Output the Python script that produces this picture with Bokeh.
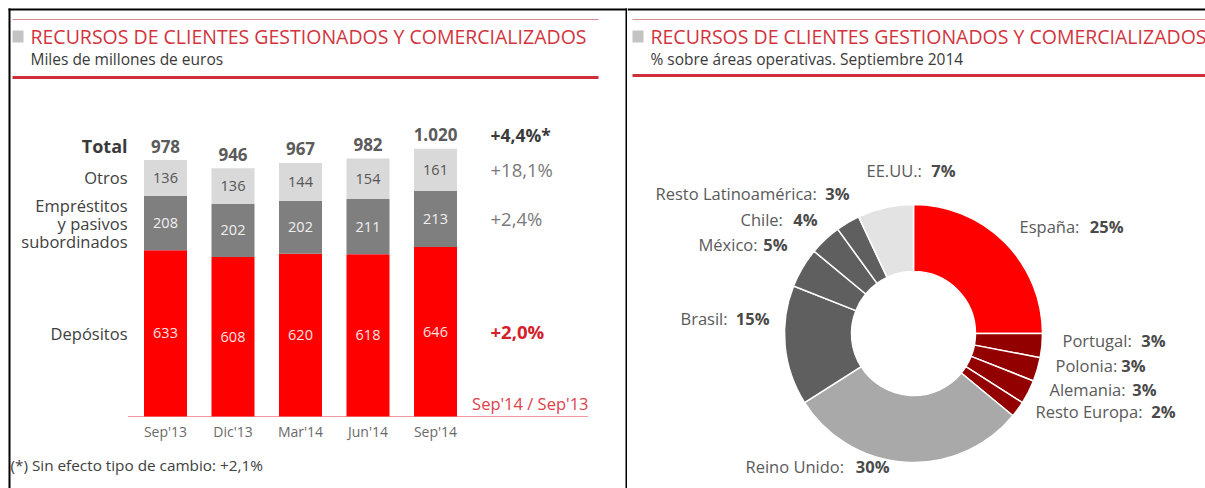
import math
from bokeh.plotting import figure
from bokeh.models import Range1d
from bokeh.layouts import row
from bokeh.embed import file_html
from bokeh.resources import INLINE
from bokeh.core.properties import value

# ---------------- data: left chart ----------------
periods = ["Sep'13", "Dic'13", "Mar'14", "Jun'14", "Sep'14"]
depositos = [633, 608, 620, 618, 646]
emprestitos = [208, 202, 202, 211, 213]
otros = [136, 136, 144, 154, 161]
totales = [978, 946, 967, 982, 1020]
row_names = ["Depósitos", ["Empréstitos", "y pasivos", "subordinados"], "Otros", "Total"]
variaciones = ["+2,0%", "+2,4%", "+18,1%", "+4,4%*"]
var_caption = "Sep'14 / Sep'13"
footnote = "(*) Sin efecto tipo de cambio: +2,1%"
title = "RECURSOS DE CLIENTES GESTIONADOS Y COMERCIALIZADOS"
sub_left = "Miles de millones de euros"
sub_right = "% sobre áreas operativas. Septiembre 2014"

# ---------------- data: right chart ----------------
areas = ["España", "Portugal", "Polonia", "Alemania", "Resto Europa", "Reino Unido",
         "Brasil", "México", "Chile", "Resto Latinoamérica", "EE.UU."]
shares = [25, 3, 3, 3, 2, 30, 15, 5, 4, 3, 7]

FONT = value("Open Sans")
H = 488
W1, W2 = 627, 578


def mk_fig(w, xr, yr):
    p = figure(width=w, height=H, x_range=Range1d(*xr), y_range=Range1d(*yr),
               output_backend="svg", toolbar_location=None,
               x_axis_location=None, y_axis_location=None, min_border=0,
               outline_line_color=None, background_fill_color="white",
               border_fill_color="white")
    p.grid.visible = False
    return p


def txt(p, x, y, s, size, color, align="left", bold=False, baseline="middle"):
    p.text(x=[x], y=[y], text=[s], text_font=FONT, text_font_size=size,
           text_color=color, text_align=align, text_baseline=baseline,
           text_font_style="bold" if bold else "normal")


def header(p, X, Y, x0, x1, sub, thick_y):
    p.segment(x0=[X(x0)], y0=[Y(19)], x1=[X(x1)], y1=[Y(19)], line_color="#d98a90", line_width=1)
    p.quad(left=[X(x0)], right=[X(x0 + 11)], top=[Y(30)], bottom=[Y(42)],
           fill_color="#c3c3c3", line_color=None)
    txt(p, X(x0 + 18), Y(36), title, "19.5px", "#d2343e")
    txt(p, X(x0 + 18), Y(58), sub, "15.5px", "#3a3a3a")
    p.segment(x0=[X(x0)], y0=[Y(thick_y)], x1=[X(x1)], y1=[Y(thick_y)],
              line_color="#cf2f3a", line_width=3)


# ================= LEFT: stacked bars =================
BAR0, PITCH, BASE, PPU = 165.0, 67.5, 416.0, 0.2625
lx = lambda px: (px - BAR0) / PITCH
ly = lambda py: (BASE - py) / PPU
p1 = mk_fig(W1, (lx(0), lx(W1)), (ly(H), ly(0)))

xs = list(range(len(periods)))
b1 = [0] * len(xs)
t1 = depositos
t2 = [a + b for a, b in zip(t1, emprestitos)]
t3 = [a + b for a, b in zip(t2, otros)]
bw = 43 / PITCH
p1.vbar(x=xs, bottom=b1, top=t1, width=bw, fill_color="#ff0000", line_color=None)
p1.vbar(x=xs, bottom=t1, top=t2, width=bw, fill_color="#7f7f7f", line_color=None)
p1.vbar(x=xs, bottom=t2, top=t3, width=bw, fill_color="#d9d9d9", line_color=None)

mids_dep = [v / 2 for v in t1]
mids_emp = [(a + b) / 2 for a, b in zip(t1, t2)]
mids_otr = [(a + b) / 2 for a, b in zip(t2, t3)]
seg_font = "14.5px"
p1.text(x=xs, y=mids_dep, text=[str(v) for v in depositos], text_font=FONT, text_font_size=seg_font,
        text_color="#fde2e2", text_align="center", text_baseline="middle")
p1.text(x=xs, y=mids_emp, text=[str(v) for v in emprestitos], text_font=FONT, text_font_size=seg_font,
        text_color="#efefef", text_align="center", text_baseline="middle")
p1.text(x=xs, y=mids_otr, text=[str(v) for v in otros], text_font=FONT, text_font_size=seg_font,
        text_color="#555555", text_align="center", text_baseline="middle")


def fmt_es(v):
    return f"{v:,}".replace(",", ".")


tot_off = 14 / PPU
tot_y = [v + tot_off for v in t3]
p1.text(x=xs, y=tot_y, text=[fmt_es(v) for v in totales], text_font=FONT, text_font_size="17px",
        text_color="#5b5b5b", text_align="center", text_baseline="middle", text_font_style="bold")

# category labels
p1.text(x=xs, y=[ly(431)] * len(xs), text=periods, text_font=FONT, text_font_size="14px",
        text_color="#6a6a6a", text_align="center", text_baseline="middle")

# baseline dotted line
p1.line(x=[lx(128), lx(588)], y=[0, 0], line_color="#e0303a", line_width=1, line_dash="1 1")

# row labels (left), aligned to first bar's segments
left_x = lx(127)
txt(p1, left_x, mids_dep[0], row_names[0], "16.5px", "#404040", align="right")
ly_gap = 18 / PPU
for k, s in enumerate(row_names[1]):
    txt(p1, left_x, mids_emp[0] + (1 - k) * ly_gap, s, "16.5px", "#404040", align="right")
txt(p1, left_x, mids_otr[0], row_names[2], "16.5px", "#404040", align="right")
txt(p1, left_x, tot_y[0], row_names[3], "18px", "#3a3a3a", align="right", bold=True)

# variation labels (right), aligned to last bar's segments
right_x = lx(490)
txt(p1, right_x, mids_dep[-1], variaciones[0], "18.5px", "#d4202c", bold=True)
txt(p1, right_x, mids_emp[-1], variaciones[1], "18.5px", "#7a7a7a")
txt(p1, right_x, mids_otr[-1], variaciones[2], "18.5px", "#7a7a7a")
txt(p1, right_x, tot_y[-1], variaciones[3], "17.5px", "#3a3a3a", bold=True)
txt(p1, lx(588), ly(403), var_caption, "16.5px", "#e0404a", align="right")

txt(p1, lx(10), ly(464), footnote, "15.3px", "#404040")

header(p1, lx, ly, 12, 598, sub_left, 77)

# borders
p1.segment(x0=[lx(9)], y0=[ly(8)], x1=[lx(9)], y1=[ly(488)], line_color="black", line_width=2)
p1.segment(x0=[lx(8)], y0=[ly(9)], x1=[lx(627)], y1=[ly(9)], line_color="black", line_width=2)
p1.segment(x0=[lx(626)], y0=[ly(8)], x1=[lx(626)], y1=[ly(488)], line_color="black", line_width=2)

# ================= RIGHT: donut =================
CX, CY, R = 913.0, 333.0, 129.0
X0R = W1
rx = lambda px: (px - CX) / R
ry = lambda py: (CY - py) / R
p2 = mk_fig(W2, (rx(X0R), rx(X0R + W2)), (ry(H), ry(0)))

colors = ["#ff0000", "#930000", "#930000", "#930000", "#930000", "#a9a9a9",
          "#5f5f5f", "#5f5f5f", "#5f5f5f", "#5f5f5f", "#e3e3e3"]
total = sum(shares)
cum = [0]
for s in shares:
    cum.append(cum[-1] + s)
starts = [math.pi / 2 - 2 * math.pi * cum[i + 1] / total for i in range(len(shares))]
ends = [math.pi / 2 - 2 * math.pi * cum[i] / total for i in range(len(shares))]
p2.annular_wedge(x=0, y=0, inner_radius=62 / R, outer_radius=1.0, start_angle=starts,
                 end_angle=ends, fill_color=colors, line_color="white", line_width=1.5)

# label layout: (start px, end px, y px) for each area
label_pos = [(1019, 1123, 226), (1062, 1165, 340), (1055, 1145, 365), (1049, 1156, 389),
             (1035, 1175, 411), (745, 889, 466), (680, 769, 318), (698, 787, 244),
             (740, 817, 219), (655, 849, 193), (866, 955, 170)]
for name, sh, (sx, ex, yy) in zip(areas, shares, label_pos):
    txt(p2, rx(sx), ry(yy), name + ":", "16.5px", "#5a5a5a")
    txt(p2, rx(ex), ry(yy), f"{sh}%", "16.5px", "#4a4a4a", align="right", bold=True)

header(p2, rx, ry, 632, 1210, sub_right, 75)
p2.segment(x0=[rx(627)], y0=[ry(9)], x1=[rx(1206)], y1=[ry(9)], line_color="black", line_width=2)

layout = row(p1, p2)
open("out.html", "w").write(file_html(layout, INLINE))
